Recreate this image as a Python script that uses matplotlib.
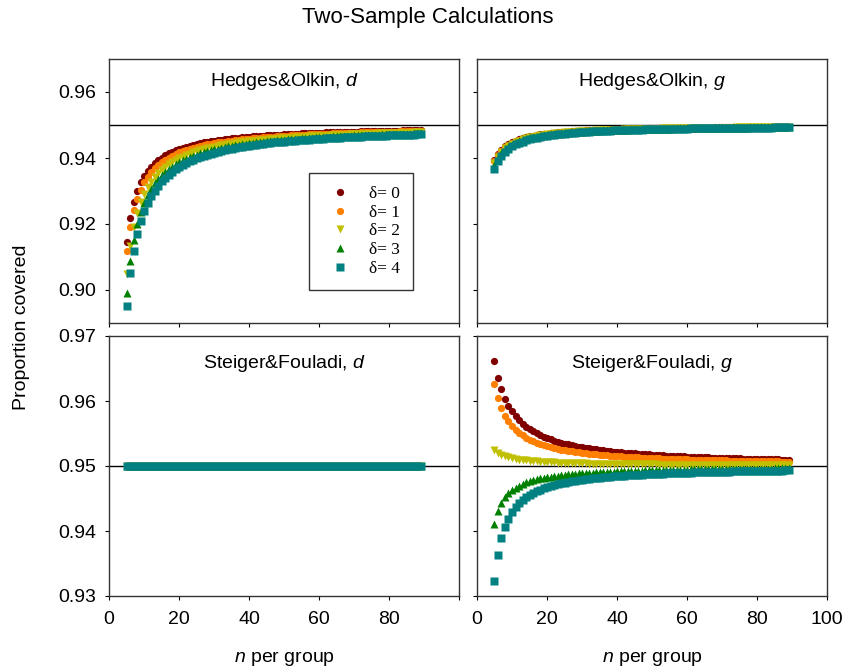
import matplotlib
matplotlib.use("Agg")
import matplotlib.pyplot as plt
from matplotlib.ticker import FormatStrFormatter

plt.rcParams['font.family'] = ['Liberation Sans', 'DejaVu Sans']
plt.rcParams['mathtext.fontset'] = 'custom'
plt.rcParams['mathtext.it'] = 'Liberation Sans:italic'
plt.rcParams['mathtext.rm'] = 'Liberation Sans'

# sample size per group (x axis), same for every series
n_per_group = list(range(5, 90))

# Hedges & Olkin, d  (delta = 0..4)
ho_d_0 = [0.9145, 0.9218, 0.9266, 0.9300, 0.9326, 0.9345, 0.9361, 0.9374, 0.9385, 0.9394,
          0.9401, 0.9408, 0.9414, 0.9419, 0.9423, 0.9427, 0.9431, 0.9434, 0.9437, 0.9440,
          0.9443, 0.9445, 0.9447, 0.9449, 0.9451, 0.9453, 0.9454, 0.9456, 0.9457, 0.9458,
          0.9460, 0.9461, 0.9462, 0.9463, 0.9464, 0.9465, 0.9466, 0.9466, 0.9467, 0.9468,
          0.9469, 0.9470, 0.9470, 0.9471, 0.9471, 0.9472, 0.9473, 0.9473, 0.9474, 0.9474,
          0.9475, 0.9475, 0.9476, 0.9476, 0.9476, 0.9477, 0.9477, 0.9478, 0.9478, 0.9478,
          0.9479, 0.9479, 0.9479, 0.9480, 0.9480, 0.9480, 0.9480, 0.9481, 0.9481, 0.9481,
          0.9481, 0.9482, 0.9482, 0.9482, 0.9482, 0.9483, 0.9483, 0.9483, 0.9483, 0.9484,
          0.9484, 0.9484, 0.9484, 0.9484, 0.9484]
ho_d_1 = [0.9117, 0.9191, 0.9241, 0.9277, 0.9304, 0.9326, 0.9343, 0.9357, 0.9369, 0.9379,
          0.9387, 0.9395, 0.9401, 0.9407, 0.9412, 0.9417, 0.9421, 0.9424, 0.9428, 0.9431,
          0.9434, 0.9436, 0.9439, 0.9441, 0.9443, 0.9445, 0.9447, 0.9449, 0.9450, 0.9452,
          0.9453, 0.9455, 0.9456, 0.9457, 0.9458, 0.9459, 0.9460, 0.9461, 0.9462, 0.9463,
          0.9464, 0.9465, 0.9465, 0.9466, 0.9467, 0.9468, 0.9468, 0.9469, 0.9469, 0.9470,
          0.9470, 0.9471, 0.9472, 0.9472, 0.9473, 0.9473, 0.9473, 0.9474, 0.9474, 0.9475,
          0.9475, 0.9476, 0.9476, 0.9476, 0.9477, 0.9477, 0.9477, 0.9478, 0.9478, 0.9478,
          0.9478, 0.9479, 0.9479, 0.9479, 0.9480, 0.9480, 0.9480, 0.9480, 0.9481, 0.9481,
          0.9481, 0.9481, 0.9481, 0.9482, 0.9482]
ho_d_2 = [0.9047, 0.9133, 0.9191, 0.9234, 0.9266, 0.9291, 0.9311, 0.9328, 0.9342, 0.9354,
          0.9364, 0.9373, 0.9381, 0.9388, 0.9394, 0.9399, 0.9404, 0.9409, 0.9413, 0.9417,
          0.9420, 0.9423, 0.9426, 0.9429, 0.9431, 0.9434, 0.9436, 0.9438, 0.9440, 0.9442,
          0.9443, 0.9445, 0.9447, 0.9448, 0.9449, 0.9451, 0.9452, 0.9453, 0.9454, 0.9455,
          0.9456, 0.9457, 0.9458, 0.9459, 0.9460, 0.9461, 0.9461, 0.9462, 0.9463, 0.9464,
          0.9464, 0.9465, 0.9466, 0.9466, 0.9467, 0.9467, 0.9468, 0.9468, 0.9469, 0.9469,
          0.9470, 0.9470, 0.9471, 0.9471, 0.9472, 0.9472, 0.9472, 0.9473, 0.9473, 0.9474,
          0.9474, 0.9474, 0.9475, 0.9475, 0.9475, 0.9476, 0.9476, 0.9476, 0.9476, 0.9477,
          0.9477, 0.9477, 0.9478, 0.9478, 0.9478]
ho_d_3 = [0.8992, 0.9088, 0.9153, 0.9201, 0.9237, 0.9265, 0.9288, 0.9307, 0.9323, 0.9336,
          0.9347, 0.9357, 0.9366, 0.9374, 0.9381, 0.9387, 0.9393, 0.9398, 0.9402, 0.9406,
          0.9410, 0.9414, 0.9417, 0.9420, 0.9423, 0.9426, 0.9428, 0.9430, 0.9433, 0.9435,
          0.9436, 0.9438, 0.9440, 0.9442, 0.9443, 0.9445, 0.9446, 0.9447, 0.9449, 0.9450,
          0.9451, 0.9452, 0.9453, 0.9454, 0.9455, 0.9456, 0.9457, 0.9458, 0.9458, 0.9459,
          0.9460, 0.9461, 0.9461, 0.9462, 0.9463, 0.9463, 0.9464, 0.9464, 0.9465, 0.9466,
          0.9466, 0.9467, 0.9467, 0.9468, 0.9468, 0.9469, 0.9469, 0.9469, 0.9470, 0.9470,
          0.9471, 0.9471, 0.9471, 0.9472, 0.9472, 0.9473, 0.9473, 0.9473, 0.9474, 0.9474,
          0.9474, 0.9474, 0.9475, 0.9475, 0.9475]
ho_d_4 = [0.8952, 0.9051, 0.9119, 0.9170, 0.9208, 0.9239, 0.9264, 0.9284, 0.9301, 0.9316,
          0.9329, 0.9340, 0.9349, 0.9358, 0.9366, 0.9373, 0.9379, 0.9384, 0.9390, 0.9394,
          0.9399, 0.9403, 0.9406, 0.9410, 0.9413, 0.9416, 0.9419, 0.9421, 0.9424, 0.9426,
          0.9428, 0.9430, 0.9432, 0.9434, 0.9435, 0.9437, 0.9439, 0.9440, 0.9442, 0.9443,
          0.9444, 0.9445, 0.9447, 0.9448, 0.9449, 0.9450, 0.9451, 0.9452, 0.9453, 0.9454,
          0.9454, 0.9455, 0.9456, 0.9457, 0.9458, 0.9458, 0.9459, 0.9460, 0.9460, 0.9461,
          0.9461, 0.9462, 0.9463, 0.9463, 0.9464, 0.9464, 0.9465, 0.9465, 0.9466, 0.9466,
          0.9467, 0.9467, 0.9468, 0.9468, 0.9468, 0.9469, 0.9469, 0.9469, 0.9470, 0.9470,
          0.9470, 0.9471, 0.9471, 0.9472, 0.9472]

# Hedges & Olkin, g
ho_g_0 = [0.9394, 0.9412, 0.9425, 0.9435, 0.9442, 0.9448, 0.9453, 0.9457, 0.9460, 0.9463,
          0.9466, 0.9468, 0.9470, 0.9472, 0.9473, 0.9474, 0.9476, 0.9477, 0.9478, 0.9479,
          0.9480, 0.9480, 0.9481, 0.9482, 0.9482, 0.9483, 0.9484, 0.9484, 0.9485, 0.9485,
          0.9485, 0.9486, 0.9486, 0.9487, 0.9487, 0.9487, 0.9488, 0.9488, 0.9488, 0.9488,
          0.9489, 0.9489, 0.9489, 0.9489, 0.9490, 0.9490, 0.9490, 0.9490, 0.9490, 0.9491,
          0.9491, 0.9491, 0.9491, 0.9491, 0.9491, 0.9492, 0.9492, 0.9492, 0.9492, 0.9492,
          0.9492, 0.9492, 0.9492, 0.9493, 0.9493, 0.9493, 0.9493, 0.9493, 0.9493, 0.9493,
          0.9493, 0.9493, 0.9493, 0.9494, 0.9494, 0.9494, 0.9494, 0.9494, 0.9494, 0.9494,
          0.9494, 0.9494, 0.9494, 0.9494, 0.9494]
ho_g_1 = [0.9390, 0.9409, 0.9422, 0.9432, 0.9440, 0.9446, 0.9451, 0.9455, 0.9459, 0.9462,
          0.9464, 0.9467, 0.9469, 0.9470, 0.9472, 0.9473, 0.9475, 0.9476, 0.9477, 0.9478,
          0.9479, 0.9480, 0.9480, 0.9481, 0.9482, 0.9482, 0.9483, 0.9483, 0.9484, 0.9484,
          0.9485, 0.9485, 0.9486, 0.9486, 0.9486, 0.9487, 0.9487, 0.9487, 0.9488, 0.9488,
          0.9488, 0.9489, 0.9489, 0.9489, 0.9489, 0.9489, 0.9490, 0.9490, 0.9490, 0.9490,
          0.9490, 0.9491, 0.9491, 0.9491, 0.9491, 0.9491, 0.9491, 0.9492, 0.9492, 0.9492,
          0.9492, 0.9492, 0.9492, 0.9492, 0.9492, 0.9493, 0.9493, 0.9493, 0.9493, 0.9493,
          0.9493, 0.9493, 0.9493, 0.9493, 0.9493, 0.9493, 0.9494, 0.9494, 0.9494, 0.9494,
          0.9494, 0.9494, 0.9494, 0.9494, 0.9494]
ho_g_2 = [0.9384, 0.9404, 0.9418, 0.9429, 0.9437, 0.9443, 0.9449, 0.9453, 0.9457, 0.9460,
          0.9463, 0.9465, 0.9467, 0.9469, 0.9470, 0.9472, 0.9473, 0.9475, 0.9476, 0.9477,
          0.9478, 0.9479, 0.9479, 0.9480, 0.9481, 0.9481, 0.9482, 0.9483, 0.9483, 0.9484,
          0.9484, 0.9485, 0.9485, 0.9485, 0.9486, 0.9486, 0.9486, 0.9487, 0.9487, 0.9487,
          0.9488, 0.9488, 0.9488, 0.9488, 0.9489, 0.9489, 0.9489, 0.9489, 0.9490, 0.9490,
          0.9490, 0.9490, 0.9490, 0.9490, 0.9491, 0.9491, 0.9491, 0.9491, 0.9491, 0.9491,
          0.9491, 0.9492, 0.9492, 0.9492, 0.9492, 0.9492, 0.9492, 0.9492, 0.9492, 0.9493,
          0.9493, 0.9493, 0.9493, 0.9493, 0.9493, 0.9493, 0.9493, 0.9493, 0.9493, 0.9493,
          0.9494, 0.9494, 0.9494, 0.9494, 0.9494]
ho_g_3 = [0.9378, 0.9399, 0.9414, 0.9425, 0.9434, 0.9440, 0.9446, 0.9451, 0.9454, 0.9458,
          0.9461, 0.9463, 0.9465, 0.9467, 0.9469, 0.9470, 0.9472, 0.9473, 0.9474, 0.9476,
          0.9477, 0.9477, 0.9478, 0.9479, 0.9480, 0.9480, 0.9481, 0.9482, 0.9482, 0.9483,
          0.9483, 0.9484, 0.9484, 0.9485, 0.9485, 0.9485, 0.9486, 0.9486, 0.9486, 0.9487,
          0.9487, 0.9487, 0.9488, 0.9488, 0.9488, 0.9488, 0.9489, 0.9489, 0.9489, 0.9489,
          0.9489, 0.9490, 0.9490, 0.9490, 0.9490, 0.9490, 0.9490, 0.9491, 0.9491, 0.9491,
          0.9491, 0.9491, 0.9491, 0.9491, 0.9492, 0.9492, 0.9492, 0.9492, 0.9492, 0.9492,
          0.9492, 0.9492, 0.9492, 0.9493, 0.9493, 0.9493, 0.9493, 0.9493, 0.9493, 0.9493,
          0.9493, 0.9493, 0.9493, 0.9493, 0.9493]
ho_g_4 = [0.9367, 0.9390, 0.9406, 0.9418, 0.9428, 0.9435, 0.9441, 0.9446, 0.9450, 0.9454,
          0.9457, 0.9460, 0.9462, 0.9464, 0.9466, 0.9468, 0.9469, 0.9471, 0.9472, 0.9473,
          0.9474, 0.9475, 0.9476, 0.9477, 0.9478, 0.9479, 0.9479, 0.9480, 0.9481, 0.9481,
          0.9482, 0.9482, 0.9483, 0.9483, 0.9484, 0.9484, 0.9484, 0.9485, 0.9485, 0.9485,
          0.9486, 0.9486, 0.9486, 0.9487, 0.9487, 0.9487, 0.9488, 0.9488, 0.9488, 0.9488,
          0.9488, 0.9489, 0.9489, 0.9489, 0.9489, 0.9489, 0.9490, 0.9490, 0.9490, 0.9490,
          0.9490, 0.9490, 0.9491, 0.9491, 0.9491, 0.9491, 0.9491, 0.9491, 0.9491, 0.9491,
          0.9492, 0.9492, 0.9492, 0.9492, 0.9492, 0.9492, 0.9492, 0.9492, 0.9492, 0.9492,
          0.9493, 0.9493, 0.9493, 0.9493, 0.9493]

# Steiger & Fouladi, d: every delta sits on the nominal 0.950
sf_d_all = [0.950] * len(n_per_group)

# Steiger & Fouladi, g
sf_g_0 = [0.96610, 0.96360, 0.96177, 0.96038, 0.95928, 0.95839, 0.95766, 0.95704, 0.95652, 0.95607,
          0.95567, 0.95533, 0.95502, 0.95475, 0.95451, 0.95429, 0.95409, 0.95390, 0.95374, 0.95358,
          0.95344, 0.95331, 0.95319, 0.95308, 0.95298, 0.95288, 0.95279, 0.95270, 0.95262, 0.95254,
          0.95247, 0.95240, 0.95234, 0.95228, 0.95222, 0.95217, 0.95211, 0.95206, 0.95202, 0.95197,
          0.95193, 0.95189, 0.95185, 0.95181, 0.95177, 0.95174, 0.95170, 0.95167, 0.95164, 0.95161,
          0.95158, 0.95155, 0.95153, 0.95150, 0.95147, 0.95145, 0.95143, 0.95140, 0.95138, 0.95136,
          0.95134, 0.95132, 0.95130, 0.95128, 0.95126, 0.95124, 0.95123, 0.95121, 0.95119, 0.95118,
          0.95116, 0.95115, 0.95113, 0.95112, 0.95110, 0.95109, 0.95108, 0.95106, 0.95105, 0.95104,
          0.95103, 0.95101, 0.95100, 0.95099, 0.95098]
sf_g_1 = [0.96257, 0.96040, 0.95887, 0.95773, 0.95685, 0.95615, 0.95558, 0.95511, 0.95471, 0.95437,
          0.95407, 0.95381, 0.95359, 0.95338, 0.95320, 0.95304, 0.95290, 0.95276, 0.95264, 0.95253,
          0.95243, 0.95233, 0.95225, 0.95217, 0.95209, 0.95202, 0.95196, 0.95189, 0.95184, 0.95178,
          0.95173, 0.95168, 0.95164, 0.95159, 0.95155, 0.95151, 0.95148, 0.95144, 0.95141, 0.95137,
          0.95134, 0.95131, 0.95129, 0.95126, 0.95123, 0.95121, 0.95119, 0.95116, 0.95114, 0.95112,
          0.95110, 0.95108, 0.95106, 0.95104, 0.95102, 0.95101, 0.95099, 0.95097, 0.95096, 0.95094,
          0.95093, 0.95092, 0.95090, 0.95089, 0.95088, 0.95086, 0.95085, 0.95084, 0.95083, 0.95082,
          0.95080, 0.95079, 0.95078, 0.95077, 0.95076, 0.95075, 0.95075, 0.95074, 0.95073, 0.95072,
          0.95071, 0.95070, 0.95069, 0.95069, 0.95068]
sf_g_2 = [0.95240, 0.95200, 0.95171, 0.95150, 0.95133, 0.95120, 0.95109, 0.95100, 0.95092, 0.95086,
          0.95080, 0.95075, 0.95071, 0.95067, 0.95063, 0.95060, 0.95057, 0.95055, 0.95052, 0.95050,
          0.95048, 0.95046, 0.95044, 0.95043, 0.95041, 0.95040, 0.95039, 0.95038, 0.95036, 0.95035,
          0.95034, 0.95033, 0.95032, 0.95032, 0.95031, 0.95030, 0.95029, 0.95029, 0.95028, 0.95027,
          0.95027, 0.95026, 0.95026, 0.95025, 0.95024, 0.95024, 0.95024, 0.95023, 0.95023, 0.95022,
          0.95022, 0.95021, 0.95021, 0.95021, 0.95020, 0.95020, 0.95020, 0.95019, 0.95019, 0.95019,
          0.95018, 0.95018, 0.95018, 0.95018, 0.95017, 0.95017, 0.95017, 0.95017, 0.95016, 0.95016,
          0.95016, 0.95016, 0.95016, 0.95015, 0.95015, 0.95015, 0.95015, 0.95015, 0.95014, 0.95014,
          0.95014, 0.95014, 0.95014, 0.95014, 0.95013]
sf_g_3 = [0.94109, 0.94304, 0.94429, 0.94516, 0.94580, 0.94629, 0.94668, 0.94699, 0.94725, 0.94747,
          0.94766, 0.94782, 0.94796, 0.94808, 0.94819, 0.94829, 0.94838, 0.94845, 0.94853, 0.94859,
          0.94865, 0.94871, 0.94876, 0.94880, 0.94885, 0.94889, 0.94892, 0.94896, 0.94899, 0.94902,
          0.94905, 0.94908, 0.94911, 0.94913, 0.94915, 0.94918, 0.94920, 0.94922, 0.94924, 0.94925,
          0.94927, 0.94929, 0.94930, 0.94932, 0.94933, 0.94935, 0.94936, 0.94937, 0.94938, 0.94940,
          0.94941, 0.94942, 0.94943, 0.94944, 0.94945, 0.94946, 0.94947, 0.94947, 0.94948, 0.94949,
          0.94950, 0.94951, 0.94952, 0.94952, 0.94953, 0.94954, 0.94954, 0.94955, 0.94956, 0.94956,
          0.94957, 0.94957, 0.94958, 0.94958, 0.94959, 0.94960, 0.94960, 0.94961, 0.94961, 0.94961,
          0.94962, 0.94962, 0.94963, 0.94963, 0.94964]
sf_g_4 = [0.93231, 0.93636, 0.93890, 0.94064, 0.94191, 0.94288, 0.94364, 0.94425, 0.94476, 0.94518,
          0.94554, 0.94585, 0.94612, 0.94636, 0.94657, 0.94676, 0.94692, 0.94707, 0.94721, 0.94734,
          0.94745, 0.94755, 0.94765, 0.94774, 0.94782, 0.94790, 0.94797, 0.94804, 0.94810, 0.94816,
          0.94821, 0.94827, 0.94831, 0.94836, 0.94841, 0.94845, 0.94849, 0.94852, 0.94856, 0.94859,
          0.94863, 0.94866, 0.94869, 0.94871, 0.94874, 0.94877, 0.94879, 0.94882, 0.94884, 0.94886,
          0.94888, 0.94890, 0.94892, 0.94894, 0.94896, 0.94898, 0.94900, 0.94901, 0.94903, 0.94904,
          0.94906, 0.94907, 0.94909, 0.94910, 0.94912, 0.94913, 0.94914, 0.94915, 0.94916, 0.94918,
          0.94919, 0.94920, 0.94921, 0.94922, 0.94923, 0.94924, 0.94925, 0.94926, 0.94927, 0.94928,
          0.94929, 0.94929, 0.94930, 0.94931, 0.94932]

delta_labels = ["\u03b4= 0", "\u03b4= 1", "\u03b4= 2", "\u03b4= 3", "\u03b4= 4"]
markers = ["o", "o", "v", "^", "s"]
colors = ["#800000", "#FF8000", "#C0C000", "#008000", "#008080"]

panels = [
    ("Hedges&Olkin, $\\mathit{d}$", [ho_d_0, ho_d_1, ho_d_2, ho_d_3, ho_d_4]),
    ("Hedges&Olkin, $\\mathit{g}$", [ho_g_0, ho_g_1, ho_g_2, ho_g_3, ho_g_4]),
    ("Steiger&Fouladi, $\\mathit{d}$", [sf_d_all] * 5),
    ("Steiger&Fouladi, $\\mathit{g}$", [sf_g_0, sf_g_1, sf_g_2, sf_g_3, sf_g_4]),
]

fig = plt.figure(figsize=(8.56, 6.72), dpi=100)
W, H = 856, 672
boxes = [(109, 59, 459, 323), (477, 59, 827, 323),
         (109, 336, 459, 596), (477, 336, 827, 596)]

axs = []
for i, (title, series) in enumerate(panels):
    x0, y0, x1, y1 = boxes[i]
    ax = fig.add_axes([x0 / W, 1 - y1 / H, (x1 - x0) / W, (y1 - y0) / H])
    axs.append(ax)
    ax.axhline(0.95, color="black", lw=1.0, zorder=1)
    for vals, mk, col, lab in zip(series, markers, colors, delta_labels):
        ax.plot(n_per_group, vals, ls="none", marker=mk, ms=5.2, color=col,
                mec="none", label=lab, zorder=2)
    ax.set_xlim(0, 100)
    ax.set_xticks([0, 20, 40, 60, 80, 100])
    top = i < 2
    if top:
        ax.set_ylim(0.89, 0.97)
        ax.set_yticks([0.90, 0.92, 0.94, 0.96])
        ty = 0.915
    else:
        ax.set_ylim(0.93, 0.97)
        ax.set_yticks([0.93, 0.94, 0.95, 0.96, 0.97])
        ty = 0.895
    ax.yaxis.set_major_formatter(FormatStrFormatter("%.2f"))
    ax.tick_params(direction="out", length=3, width=0.8, labelsize=14,
                   colors="black")
    ax.tick_params(axis="x", pad=8)
    ax.tick_params(axis="y", pad=6)
    for sp in ax.spines.values():
        sp.set_color("#333333")
        sp.set_linewidth(1.0)
    ax.text(0.5, ty, title, transform=ax.transAxes, ha="center", va="center",
            fontsize=14)
    if top:
        ax.tick_params(axis="x", labelbottom=False)
    if i % 2 == 1:
        ax.tick_params(axis="y", labelleft=False)

axs[2].set_xticklabels(["0", "20", "40", "60", "80", ""])

leg = axs[0].legend(loc="upper left", bbox_to_anchor=((309 - 109) / 350, (323 - 172.7) / 264),
                    prop={"family": "Liberation Serif", "size": 12.5},
                    frameon=True, fancybox=False, framealpha=1, edgecolor="#333333",
                    borderpad=0.75, labelspacing=0.15, handlelength=2.1,
                    handletextpad=0.6, numpoints=1, borderaxespad=0)
leg.get_frame().set_linewidth(1.0)

fig.text(0.5, 1 - 18 / H, "Two-Sample Calculations", ha="center", va="center", fontsize=16)
fig.text(22 / W, 1 - 327 / H, "Proportion covered", rotation=90, ha="center", va="center",
         fontsize=14)
fig.text(284 / W, 1 - 659 / H, "$\\mathit{n}$ per group", ha="center", va="center", fontsize=14)
fig.text(652 / W, 1 - 659 / H, "$\\mathit{n}$ per group", ha="center", va="center", fontsize=14)

fig.savefig("out.png", dpi=100)
